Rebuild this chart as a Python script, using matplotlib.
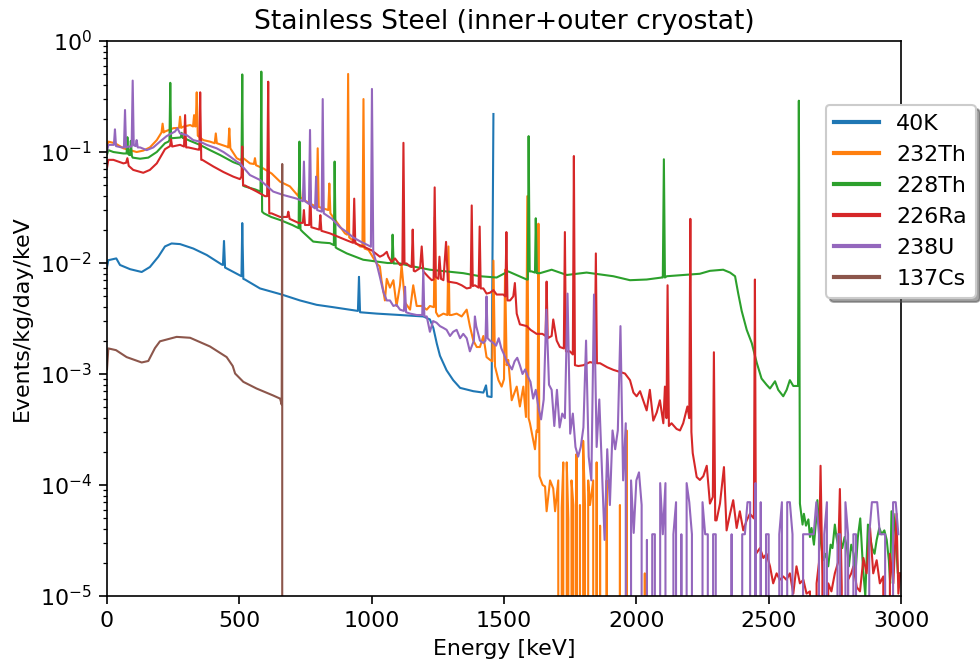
import numpy as np
import matplotlib
matplotlib.use("Agg")
import matplotlib.pyplot as plt

OUTPUT_PNG = "out.png"

plt.rcParams["font.size"] = 10.6
plt.rcParams["xtick.major.size"] = 3.7
plt.rcParams["ytick.major.size"] = 3.7
plt.rcParams["ytick.minor.size"] = 2.1

# energies in keV, rates in events/kg/day/keV
K40_E = [0, 5, 35, 49, 87, 131, 162, 194, 219, 244,
         276, 326, 377, 433, 438, 442, 446, 508, 511, 515,
         521, 578, 660, 729, 792, 854, 948, 952, 956, 1019,
         1107, 1195, 1220, 1233, 1246, 1258, 1283, 1308, 1334, 1384,
         1422, 1432, 1437, 1453, 1460]
K40_V = [0.0092, 0.0106, 0.011, 0.0096, 0.0088, 0.0083, 0.0092, 0.0114, 0.0141, 0.0150,
         0.0148, 0.0135, 0.0118, 0.0097, 0.0096, 0.0158, 0.0091, 0.0076, 0.0229, 0.0072,
         0.0071, 0.0059, 0.0052, 0.0046, 0.0042, 0.0040, 0.0037, 0.0075, 0.0036, 0.0035,
         0.0034, 0.0033, 0.0031, 0.0026, 0.00188, 0.00146, 0.00108, 0.00088, 0.00075, 0.00070,
         0.00068, 0.00079, 0.00063, 0.00062, 0.22]

CS137_E = [0, 5, 34, 74, 131, 156, 181, 200, 263, 314,
           389, 452, 475, 484, 515, 565, 628, 654, 660, 662,
           664]
CS137_V = [0.0011, 0.0017, 0.00164, 0.00142, 0.00127, 0.00131, 0.00171, 0.00197, 0.00216, 0.00212,
           0.00177, 0.00142, 0.00118, 0.00101, 0.00085, 0.00074, 0.00064, 0.00060, 0.00053, 0.078,
           0]

TH228_E = [0, 5, 24, 62, 74, 77, 80, 84, 87, 90,
           94, 97, 125, 156, 188, 219, 232, 236, 239, 242,
           276, 279, 282, 286, 295, 314, 351, 389, 427, 477,
           502, 508, 511, 514, 520, 560, 580, 583, 586, 593,
           620, 654, 700, 724, 727, 731, 740, 779, 810, 842,
           857, 860, 864, 870, 906, 968, 1031, 1060, 1076, 1079,
           1083, 1107, 1157, 1220, 1283, 1346, 1409, 1472, 1516, 1586,
           1590, 1593, 1597, 1604, 1617, 1620, 1624, 1636, 1680, 1737,
           1812, 1913, 1976, 2039, 2096, 2100, 2104, 2108, 2115, 2177,
           2240, 2278, 2328, 2354, 2373, 2385, 2398, 2417, 2436, 2455,
           2473, 2492, 2505, 2524, 2536, 2555, 2568, 2580, 2593, 2605,
           2611, 2614, 2618]
TH228_V = [0.095, 0.104, 0.10, 0.097, 0.097, 0.136, 0.096, 0.094, 0.094, 0.126,
           0.092, 0.089, 0.087, 0.089, 0.10, 0.12, 0.124, 0.128, 0.42, 0.133,
           0.135, 0.136, 0.149, 0.134, 0.132, 0.126, 0.116, 0.104, 0.094, 0.081,
           0.077, 0.074, 0.50, 0.050, 0.049, 0.046, 0.044, 0.53, 0.029, 0.028,
           0.026, 0.0244, 0.022, 0.0206, 0.124, 0.020, 0.019, 0.0156, 0.0153, 0.0151,
           0.0145, 0.082, 0.0138, 0.0135, 0.0122, 0.0107, 0.0102, 0.0100, 0.0100, 0.018,
           0.0099, 0.0099, 0.0093, 0.0087, 0.0084, 0.0081, 0.0076, 0.0074, 0.0084, 0.0071,
           0.0071, 0.139, 0.0084, 0.0084, 0.0082, 0.0253, 0.0081, 0.0081, 0.0087, 0.0078,
           0.0082, 0.0076, 0.0070, 0.0071, 0.0074, 0.0074, 0.086, 0.0074, 0.0076, 0.0078,
           0.0080, 0.0085, 0.0087, 0.0082, 0.0076, 0.0053, 0.0037, 0.0025, 0.0019, 0.00126,
           0.00091, 0.00080, 0.00074, 0.00086, 0.00072, 0.00063, 0.00072, 0.00088, 0.00078, 0.00078,
           0.00078, 0.29, 6.8e-5]
TH228_TAIL_E = [2628, 2633, 2641, 2650, 2656, 2662, 2671, 2679, 2684, 2691,
                2700, 2706, 2716, 2725, 2734, 2741, 2750, 2756, 2762, 2771,
                2778, 2787, 2796, 2803, 2812, 2821, 2828, 2837, 2846, 2856,
                2865, 2875, 2881, 2891, 2900, 2908, 2918, 2927, 2937, 2946,
                2954, 2959, 2964, 2972, 2979, 2988, 2997]
TH228_TAIL_V = [4.4e-5, 5.5e-5, 4.3e-5, 4.9e-5, 3.4e-5, 4.1e-5, 2.9e-5, 4.8e-5, 7.3e-5, 4.1e-5,
                2.7e-5, 2.1e-5, 2.4e-5, 1.85e-5, 2.9e-5, 2.7e-5, 4.4e-5, 3.4e-5, 2.9e-5, 3.2e-5,
                2.7e-5, 3.4e-5, 2.7e-5, 1.85e-5, 2.9e-5, 2.4e-5, 1.6e-5, 3.4e-5, 5.0e-5, 1.85e-5,
                1.0e-5, 4.4e-5, 3.6e-5, 2.7e-5, 2.4e-5, 3.2e-5, 4.1e-5, 3.6e-5, 3.9e-5, 3.2e-5,
                2.1e-5, 1.3e-5, 5.8e-5, 5.5e-5, 3.6e-5, 1.6e-5, 1.6e-5]

RA226_E = [0, 5, 24, 62, 72, 77, 82, 99, 137, 162,
           188, 219, 238, 242, 246, 276, 291, 295, 299, 307,
           345, 349, 352, 356, 360, 402, 440, 477, 502, 508,
           511, 514, 521, 566, 597, 605, 609, 613, 622, 654,
           681, 685, 690, 723, 740, 744, 748, 764, 768, 772,
           802, 806, 810, 842, 906, 930, 934, 938, 968, 1000,
           1031, 1044, 1057, 1063, 1075, 1088, 1107, 1116, 1120, 1124,
           1132, 1145, 1151, 1155, 1159, 1164, 1183, 1189, 1195, 1214,
           1227, 1234, 1238, 1242, 1252, 1256, 1262, 1271, 1281, 1288,
           1321, 1340, 1359, 1374, 1378, 1382, 1390, 1404, 1408, 1412,
           1422, 1434, 1447, 1460, 1472, 1497, 1505, 1509, 1513, 1523,
           1535, 1541, 1548, 1560, 1586, 1600, 1623, 1645, 1657, 1661,
           1665, 1680, 1686, 1699, 1711, 1726, 1730, 1734, 1749, 1760,
           1764, 1768, 1781, 1800, 1825, 1843, 1847, 1851, 1863, 1890,
           1913, 1935, 1957, 1976, 1989, 2001, 2014, 2026, 2039, 2051,
           2064, 2077, 2089, 2102, 2108, 2114, 2118, 2123, 2133, 2152,
           2165, 2177, 2193, 2200, 2204, 2208, 2213, 2228, 2240, 2253,
           2266, 2278, 2289, 2293, 2298, 2303, 2316, 2331, 2341, 2354,
           2366, 2379, 2391, 2404, 2417, 2429, 2444, 2448, 2452, 2467,
           2480, 2492, 2505, 2517, 2530, 2542, 2555, 2567, 2580, 2593,
           2605, 2618, 2631, 2643, 2656, 2668, 2681, 2690, 2696, 2703,
           2712, 2725, 2737, 2750, 2762, 2769, 2776, 2788, 2800, 2812,
           2820, 2833, 2845, 2858, 2870, 2883, 2895, 2908, 2920, 2933,
           2946, 2958, 2971, 2983, 2990, 2997]
RA226_V = [0.072, 0.085, 0.085, 0.079, 0.080, 0.088, 0.075, 0.069, 0.065, 0.069,
           0.079, 0.106, 0.113, 0.13, 0.112, 0.116, 0.112, 0.215, 0.110, 0.110,
           0.105, 0.105, 0.345, 0.085, 0.085, 0.074, 0.066, 0.060, 0.057, 0.060,
           0.112, 0.050, 0.050, 0.044, 0.040, 0.040, 0.43, 0.028, 0.028, 0.026,
           0.026, 0.029, 0.025, 0.023, 0.023, 0.030, 0.022, 0.022, 0.045, 0.021,
           0.020, 0.027, 0.0195, 0.0185, 0.016, 0.0152, 0.038, 0.015, 0.0141, 0.013,
           0.0114, 0.0118, 0.0126, 0.0114, 0.0102, 0.011, 0.0096, 0.0097, 0.121, 0.0099,
           0.0099, 0.0093, 0.0092, 0.020, 0.0085, 0.0084, 0.0090, 0.0141, 0.0084, 0.0075,
           0.0070, 0.0071, 0.048, 0.0075, 0.0072, 0.0114, 0.0072, 0.0070, 0.0155, 0.0068,
           0.0066, 0.0063, 0.0059, 0.0060, 0.033, 0.0062, 0.0063, 0.0060, 0.0213, 0.0059,
           0.0059, 0.0053, 0.0054, 0.0057, 0.0052, 0.0052, 0.0050, 0.019, 0.0046, 0.0046,
           0.0050, 0.0066, 0.0035, 0.0028, 0.0027, 0.0025, 0.0023, 0.0023, 0.0022, 0.0068,
           0.0021, 0.0022, 0.0031, 0.0020, 0.00175, 0.0017, 0.019, 0.0016, 0.0016, 0.0015,
           0.092, 0.0012, 0.00118, 0.0012, 0.00128, 0.00125, 0.0122, 0.00125, 0.00125, 0.00115,
           0.00109, 0.00105, 0.00101, 0.00088, 0.00068, 0.00063, 0.00070, 0.00058, 0.00047, 0.00072,
           0.00038, 0.00045, 0.00058, 0.00036, 0.00077, 0.00040, 0.0063, 0.00034, 0.00036, 0.00032,
           0.00031, 0.00036, 0.00051, 0.00040, 0.025, 0.00030, 0.000194, 0.000118, 0.000111, 0.00012,
           0.000149, 6.8e-5, 7.8e-5, 0.00157, 4.8e-5, 4.8e-5, 6.8e-5, 0.000145, 3.9e-5, 5.5e-5,
           7.3e-5, 4.1e-5, 5.8e-5, 3.9e-5, 4.8e-5, 5.5e-5, 5.0e-5, 0.0071, 2.4e-5, 2.7e-5,
           2.2e-5, 2.4e-5, 1.85e-5, 1.3e-5, 1.6e-5, 1.4e-5, 1.5e-5, 1.4e-5, 1.6e-5, 1.05e-5,
           1.85e-5, 1.3e-5, 1.4e-5, 1.05e-5, 1.1e-5, 0, 1.3e-5, 2.0e-5, 0.000149, 1.5e-5,
           0, 1.3e-5, 1.1e-5, 1.6e-5, 2.0e-5, 9.2e-5, 1.2e-5, 0, 1.4e-5, 1.6e-5,
           1.85e-5, 1.2e-5, 1.1e-5, 2.2e-5, 1.6e-5, 4.1e-5, 1.6e-5, 2.1e-5, 1.3e-5, 1.5e-5,
           0, 2.4e-5, 1.3e-5, 5.5e-5, 1.05e-5, 1.6e-5]

U238_E = [0, 5, 26, 30, 34, 55, 64, 68, 72, 80,
          93, 97, 101, 108, 112, 116, 125, 150, 175, 200,
          225, 257, 266, 276, 301, 326, 351, 377, 414, 440,
          465, 490, 502, 540, 578, 628, 666, 717, 740, 744,
          748, 763, 767, 771, 786, 790, 794, 811, 815, 819,
          850, 880, 906, 930, 960, 985, 997, 1001, 1006, 1019,
          1031, 1044, 1057, 1069, 1082, 1094, 1107, 1122, 1126, 1130, 1145,
          1170, 1191, 1195, 1199, 1208, 1220, 1232, 1245, 1258, 1271,
          1283, 1296, 1308, 1321, 1334, 1346, 1359, 1371, 1386, 1390,
          1395, 1409, 1422, 1430, 1434, 1438, 1447]
U238_V = [0.10, 0.116, 0.116, 0.16, 0.113, 0.110, 0.110, 0.239, 0.110, 0.112,
          0.112, 0.44, 0.115, 0.113, 0.128, 0.110, 0.110, 0.104, 0.110, 0.124,
          0.139, 0.153, 0.164, 0.147, 0.142, 0.128, 0.124, 0.116, 0.108, 0.100,
          0.091, 0.082, 0.079, 0.062, 0.056, 0.044, 0.041, 0.038, 0.036, 0.082,
          0.036, 0.034, 0.158, 0.033, 0.031, 0.060, 0.030, 0.029, 0.30, 0.028,
          0.025, 0.021, 0.019, 0.017, 0.0155, 0.0145, 0.014, 0.37, 0.0125, 0.0098,
          0.0075, 0.0055, 0.0046, 0.0046, 0.0041, 0.0042, 0.0038, 0.0037, 0.0061, 0.0036, 0.0035,
          0.0034, 0.0034, 0.0087, 0.0033, 0.0033, 0.0024, 0.0030, 0.0029, 0.0027, 0.0026,
          0.0025, 0.0022, 0.0024, 0.0025, 0.0021, 0.0023, 0.0021, 0.0016, 0.0020, 0.0033,
          0.0027, 0.0020, 0.0019, 0.0020, 0.0050, 0.0021, 0.0020]
# 10 keV bins from 1460 keV upward, sparse counts (0 = empty bin)
U238_TAIL_START, U238_TAIL_STEP = 1460, 10
U238_TAIL_V = [0.0019, 0.0018, 0.0021, 0.0017, 0.0015, 0.0013, 0.0012, 0.0011, 0.0013, 0.0014,
               0.0012, 0.0010, 0.0011, 0.00095, 0.00085, 0.0006, 0.00072, 0.0005, 0.00039, 0.00059,
               0.0038, 0.0008, 0.00072, 0.00034, 0.00072, 0.00033, 0.00044, 0.0004, 0.0053, 0.00029,
               0.00044, 0.00022, 0.00018, 0.00022, 0.00033, 0.002, 0.00018, 0.00011, 0.0052, 0.00022,
               0.00059, 0.00014, 3.2e-5, 0.00021, 6.6e-5, 0.00031, 0.00021, 0.00031, 0.0027, 0.00011,
               0.00036, 0, 0.00011, 3.7e-5, 0.00011, 0.00013, 6.6e-5, 0, 3.2e-5, 0,
               3.6e-5, 3.6e-5, 0, 1.04e-4, 3.6e-5, 1.04e-4, 0, 0, 3.6e-5, 7e-5,
               0, 3.6e-5, 0, 1.04e-4, 7e-5, 3.6e-5, 0, 0, 0, 7e-5,
               3.6e-5, 3.6e-5, 0, 3.6e-5, 3.6e-5, 0, 0, 0, 0, 0,
               3.6e-5, 0, 0, 0, 3.6e-5, 3.6e-5, 7e-5, 7e-5, 0, 1.04e-4,
               0, 7e-5, 0, 3.6e-5, 3.6e-5, 0, 0, 0, 3.6e-5, 7e-5,
               0, 7e-5, 7e-5, 3.6e-5, 0, 0, 0, 3.6e-5, 3.6e-5, 3.6e-5,
               3.6e-5, 3.6e-5, 7e-5, 3.6e-5, 0, 3.6e-5, 7e-5, 0, 0, 0,
               3.6e-5, 3.6e-5, 0, 7e-5, 3.6e-5, 0, 3.6e-5, 3.6e-5, 0, 0,
               0, 0, 3.6e-5, 7e-5, 7e-5, 7e-5, 3.6e-5, 3.6e-5, 3.6e-5, 0,
               0, 7e-5, 7e-5, 3.6e-5]

TH232_E = [0, 5, 30, 62, 87, 112, 137, 162, 188, 206,
           210, 214, 219, 251, 272, 276, 280, 288, 314, 325,
           329, 333, 335, 339, 343, 364, 389, 407, 411, 415,
           452, 458, 462, 466, 490, 502, 515, 540, 555, 559,
           563, 591, 622, 654, 691, 723, 727, 731, 760, 792,
           796, 800, 836, 840, 844, 880, 899, 907, 911, 915,
           956, 965, 969, 973, 988, 1019,
           1031, 1037, 1050, 1057, 1069, 1082, 1094, 1107, 1113, 1126,
           1145, 1157, 1170, 1189, 1208, 1220, 1235, 1239, 1243, 1252,
           1271, 1286, 1290, 1294, 1302, 1321, 1340, 1359, 1371, 1384,
           1397, 1409, 1422, 1434, 1447, 1456, 1460, 1466, 1479, 1491,
           1500, 1504, 1510, 1516, 1529, 1548, 1560, 1573, 1583, 1588,
           1593, 1598, 1611, 1617, 1623, 1627, 1630, 1634, 1646, 1655,
           1661, 1674, 1686, 1693, 1705, 1711, 1718, 1724, 1730, 1737,
           1743, 1749, 1755, 1762, 1768, 1774, 1781, 1787, 1793, 1799,
           1806, 1812, 1818, 1825, 1837, 1844, 1850, 1856, 1863, 1875,
           1888, 1900, 1938, 1951, 1963, 1970, 2032, 2040]
TH232_V = [0.11, 0.124, 0.12, 0.108, 0.104, 0.100, 0.103, 0.110, 0.128, 0.150,
           0.180, 0.150, 0.153, 0.164, 0.165, 0.208, 0.165, 0.169, 0.175, 0.170,
           0.215, 0.170, 0.170, 0.345, 0.140, 0.128, 0.124, 0.120, 0.147, 0.120,
           0.112, 0.110, 0.163, 0.108, 0.088, 0.085, 0.088, 0.079, 0.078, 0.088,
           0.076, 0.071, 0.064, 0.054, 0.049, 0.040, 0.055, 0.039, 0.035, 0.032,
           0.108, 0.032, 0.030, 0.052, 0.028, 0.0213, 0.0185, 0.018, 0.505, 0.017,
           0.0141, 0.014, 0.30, 0.0135, 0.0131, 0.0099,
           0.0093, 0.0070, 0.0046, 0.0072, 0.0060, 0.0070, 0.0041, 0.0063, 0.0096, 0.0044,
           0.0038, 0.0063, 0.0041, 0.0041, 0.0038, 0.0041, 0.0040, 0.026, 0.0036, 0.0033,
           0.0035, 0.0034, 0.0141, 0.0034, 0.0034, 0.0035, 0.0033, 0.0038, 0.0027, 0.0020,
           0.00175, 0.00175, 0.0022, 0.00142, 0.00134, 0.0013, 0.0105, 0.00117, 0.00088, 0.00077,
           0.0009, 0.0087, 0.0012, 0.00134, 0.00058, 0.00077, 0.00051, 0.00077, 0.00041, 0.040,
           0.0004, 0.00036, 0.00025, 0.00021, 0.00031, 0.0003, 0.0226, 0.00012, 0.00010, 9.7e-5,
           5.8e-5, 0.00011, 9.3e-5, 5.8e-5, 0.00011, 0, 6.2e-5, 0.00016, 0, 0.00016,
           4.9e-5, 0, 0.00011, 6.6e-5, 0, 0.00019, 0, 6.6e-5, 0, 0.00025,
           6.6e-5, 0, 0.00011, 6.6e-5, 0.00011, 0, 0.00016, 0, 4.3e-5, 0,
           0.00011, 0, 6.6e-5, 0, 0.00031, 0, 1.6e-5, 0]

u238_tail_e = U238_TAIL_START + U238_TAIL_STEP * np.arange(len(U238_TAIL_V))

series = [
    ("40K", K40_E, K40_V),
    ("232Th", TH232_E, TH232_V),
    ("228Th", TH228_E + TH228_TAIL_E, TH228_V + TH228_TAIL_V),
    ("226Ra", RA226_E, RA226_V),
    ("238U", U238_E + list(u238_tail_e), U238_V + U238_TAIL_V),
    ("137Cs", CS137_E, CS137_V),
]

fig = plt.figure(figsize=(980 / 150, 668 / 150), dpi=150)
ax = fig.add_axes([0.1092, 0.1078, 0.8102, 0.8308])

for label, e, v in series:
    ax.plot(e, v, lw=1.0, label=label)

ax.set_yscale("log")
ax.set_xlim(0, 3000)
ax.set_ylim(1e-5, 1)
ax.set_xlabel("Energy [keV]")
ax.set_ylabel("Events/kg/day/keV")
ax.set_title("Stainless Steel (inner+outer cryostat)")

leg = ax.legend(loc="upper left", bbox_to_anchor=(0.905, 0.885), borderaxespad=0,
                shadow=True)
for line in leg.get_lines():
    line.set_linewidth(2.0)

fig.savefig(OUTPUT_PNG, dpi=150)
